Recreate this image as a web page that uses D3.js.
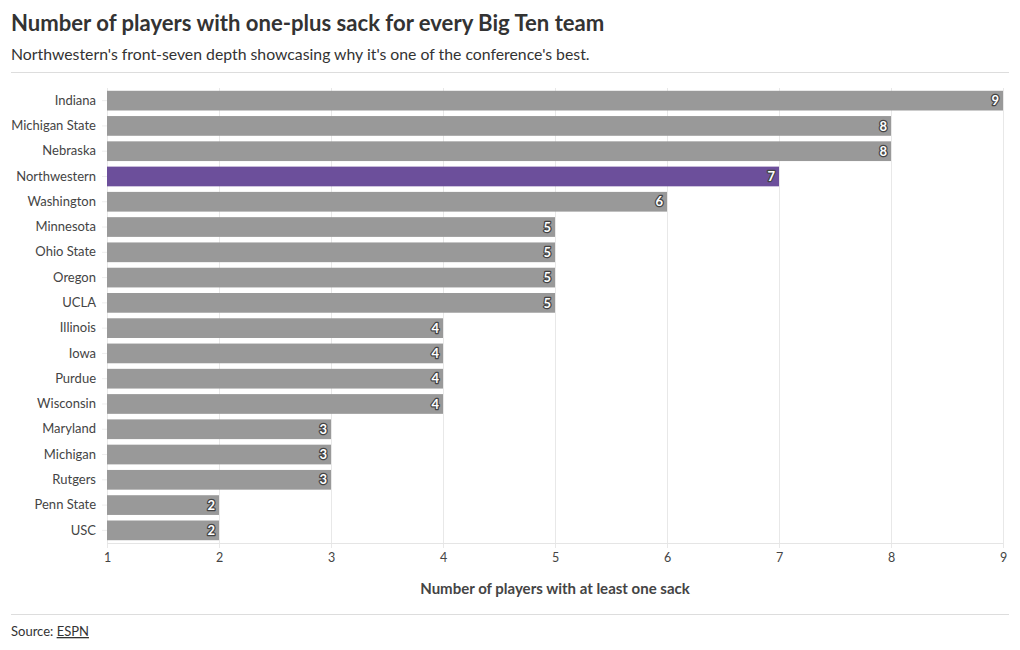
<!DOCTYPE html>
<html><head><meta charset="utf-8">
<script src="https://cdn.jsdelivr.net/npm/d3@7"></script>
<style>
body{margin:0;background:#fff;font-family:Lato,"Noto Sans",sans-serif;}
svg text{font-family:Lato,"Noto Sans",sans-serif;}
</style></head><body>
<svg id="c" width="1020" height="650"></svg>
<script>
const teams = ["Indiana","Michigan State","Nebraska","Northwestern","Washington","Minnesota","Ohio State","Oregon","UCLA","Illinois","Iowa","Purdue","Wisconsin","Maryland","Michigan","Rutgers","Penn State","USC"];
const values = [9,8,8,7,6,5,5,5,5,4,4,4,4,3,3,3,2,2];
const xTicks = [1,2,3,4,5,6,7,8,9];
const highlight = "Northwestern";

(function(){
const svg = d3.select("#c");
const left = 107, right = 1003, plotTop = 88, plotBottom = 543;

svg.append("text").attr("x",11).attr("y",31).text("Number of players with one-plus sack for every Big Ten team")
  .attr("font-size",22.1).attr("font-weight",700).attr("fill","#333");
svg.append("text").attr("x",11).attr("y",60).text("Northwestern's front-seven depth showcasing why it's one of the conference's best.")
  .attr("font-size",15.8).attr("fill","#333");
svg.append("line").attr("x1",11).attr("x2",1009).attr("y1",72.5).attr("y2",72.5).attr("stroke","#ddd");

const x = d3.scaleLinear().domain([1,9]).range([left,right]);
const y = d3.scaleBand().domain(teams).range([plotTop,plotBottom]).paddingInner(0.22).paddingOuter(0.11);

svg.append("g").selectAll("line").data(xTicks).join("line")
  .attr("x1",d=>x(d)+0.5).attr("x2",d=>x(d)+0.5).attr("y1",plotTop).attr("y2",plotBottom+5)
  .attr("stroke","#e8e8e8");
svg.append("line").attr("x1",left).attr("x2",right).attr("y1",plotBottom+0.5).attr("y2",plotBottom+0.5).attr("stroke","#e5e5e5");

const xa = svg.append("g").attr("transform",`translate(0,${plotBottom+5})`)
  .call(d3.axisBottom(x).tickValues(xTicks).tickFormat(d3.format("d")).tickSize(0).tickPadding(5));
xa.select(".domain").remove();
xa.selectAll("text").attr("font-size",12.5).attr("fill","#444").attr("font-family","Lato,sans-serif");

const ya = svg.append("g").attr("transform",`translate(${left},0)`)
  .call(d3.axisLeft(y).tickSize(5).tickPadding(6));
ya.select(".domain").remove();
ya.selectAll("line").attr("stroke","#eee");
ya.selectAll("text").attr("font-size",13).attr("fill","#444").attr("font-family","Lato,sans-serif");

const data = teams.map((t,i)=>({t,v:values[i]}));
svg.append("g").selectAll("rect").data(data).join("rect")
  .attr("x",x(1)).attr("y",d=>y(d.t)).attr("width",d=>x(d.v)-x(1)).attr("height",y.bandwidth())
  .attr("fill",d=>d.t===highlight?"#6c4f9b":"#999");

svg.append("g").selectAll("text").data(data).join("text")
  .attr("x",d=>x(d.v)-4).attr("y",d=>y(d.t)+y.bandwidth()/2).attr("dy","0.36em")
  .attr("text-anchor","end").attr("font-size",13).attr("font-weight",700)
  .attr("fill","#fff").attr("stroke","#444").attr("stroke-width",2.5).attr("paint-order","stroke")
  .attr("stroke-linejoin","round").text(d=>d.v);

svg.append("text").attr("x",(left+right)/2).attr("y",594).attr("text-anchor","middle")
  .attr("font-size",15).attr("font-weight",700).attr("fill","#444").text("Number of players with at least one sack");
svg.append("line").attr("x1",11).attr("x2",1009).attr("y1",614.5).attr("y2",614.5).attr("stroke","#ddd");
const src = svg.append("text").attr("x",11).attr("y",636).attr("font-size",13).attr("fill","#333");
src.append("tspan").text("Source: ");
src.append("tspan").text("ESPN").attr("text-decoration","underline");
})();
</script></body></html>
